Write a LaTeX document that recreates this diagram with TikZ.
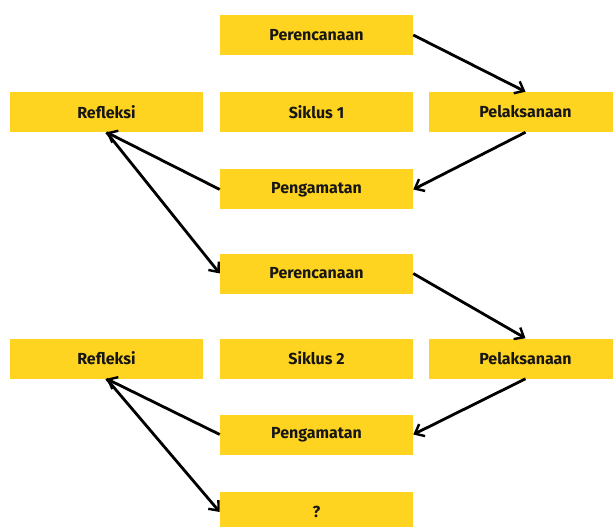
\documentclass[tikz,border=0pt]{standalone}
\usepackage{fontspec}
\setmainfont{Fira Sans}
\usepackage{xcolor}
\usetikzlibrary{arrows.meta}
\definecolor{kuning}{RGB}{255,212,32}
\definecolor{teks}{RGB}{22,22,22}
\tikzset{
  kotak/.style={fill=kuning, draw=none, minimum width=144.75pt, minimum height=30pt, inner sep=0pt, font=\bfseries\fontsize{12}{14}\selectfont, text=teks},
  panah/.style={draw=black, line width=2.1pt, -{Straight Barb[length=6pt,width=10pt,line width=1.8pt]}}
}
\begin{document}
\begin{tikzpicture}[x=0.75pt,y=0.75pt,yscale=-1,xscale=1]
\clip (0,0) rectangle (613,527);
\fill[white] (0,0) rectangle (613,527);
% Siklus 1
\node [kotak] (perc1) at (316.5,35) {Perencanaan};
\node [kotak] (ref1) at (106.5,112) {Refleksi};
\node [kotak] (sik1) at (316.5,112) {Siklus 1};
\node [kotak] (pel1) at (525.5,112) {Pelaksanaan};
\node [kotak] (peng1) at (316.5,189.5) {Pengamatan};
% Siklus 2
\node [kotak] (perc2) at (316.5,273.5) {Perencanaan};
\node [kotak] (ref2) at (106.5,358.5) {Refleksi};
\node [kotak] (sik2) at (316.5,358.5) {Siklus 2};
\node [kotak] (pel2) at (525.5,358.5) {Pelaksanaan};
\node [kotak] (peng2) at (316.5,434.5) {Pengamatan};
% Siklus berikutnya
\node [kotak] (lanjut) at (316.5,512) {?};
% Arrows
\draw [panah] (perc1.east) -- (pel1.north);
\draw [panah] (pel1.south) -- (peng1.east);
\draw [panah] (peng1.west) -- (ref1.south);
\draw [panah] (ref1.south) -- (perc2.west);
\draw [panah] (perc2.east) -- (pel2.north);
\draw [panah] (pel2.south) -- (peng2.east);
\draw [panah] (peng2.west) -- (ref2.south);
\draw [panah] (ref2.south) -- (lanjut.west);
\end{tikzpicture}
\end{document}
